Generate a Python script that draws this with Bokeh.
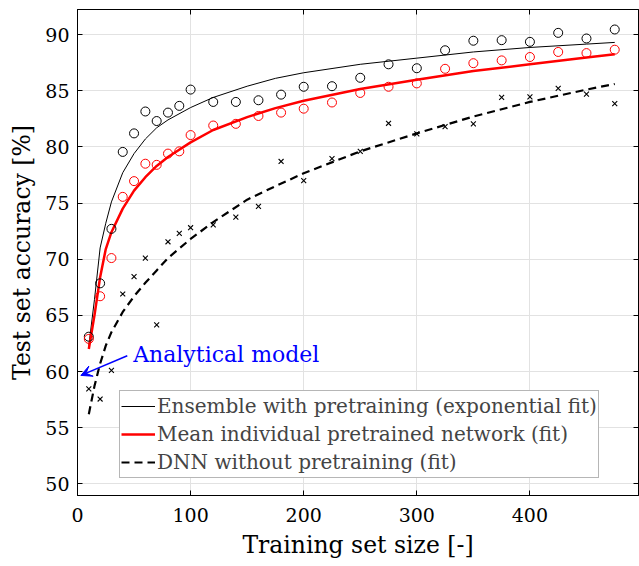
from bokeh.plotting import figure
from bokeh.models import (Range1d, LinearAxis, FixedTicker, Legend, LegendItem,
                          Label, Arrow, VeeHead, CustomJSTickFormatter)
from bokeh.embed import file_html
from bokeh.resources import INLINE

# ---------------- data ----------------
x_pts = [10, 20, 30, 40, 50, 60, 70, 80, 90, 100, 120, 140, 160, 180, 200,
         225, 250, 275, 300, 325, 350, 375, 400, 425, 450, 475]
ensemble_pts = [63.1, 67.85, 72.7, 79.55, 81.2, 83.15, 82.3, 83.05, 83.65, 85.1,
                84.0, 84.0, 84.15, 84.65, 85.35, 85.4, 86.15, 87.35, 87.0, 88.6,
                89.45, 89.5, 89.35, 90.15, 89.65, 90.45]
mean_pts = [62.9, 66.7, 70.1, 75.55, 76.95, 78.5, 78.4, 79.4, 79.6, 81.05,
            81.9, 82.05, 82.75, 83.05, 83.4, 83.95, 84.8, 85.35, 85.65, 86.95,
            87.45, 87.7, 88.0, 88.45, 88.35, 88.65]
dnn_pts = [58.45, 57.55, 60.1, 66.9, 68.45, 70.1, 64.15, 71.55, 72.3, 72.8,
           73.05, 73.75, 74.7, 78.7, 77.0, 78.95, 79.6, 82.1, 81.15, 81.8,
           82.05, 84.4, 84.45, 85.2, 84.7, 83.85]

fit_x = [10, 15, 20, 25, 30, 40, 50, 60, 70, 80, 100, 120, 150, 175, 200,
         250, 300, 350, 400, 450, 475]
ensemble_fit = [62.3, 66.4, 71.0, 73.2, 75.1, 77.7, 79.4, 80.7, 81.7, 82.4,
                83.5, 84.4, 85.4, 86.1, 86.6, 87.35, 87.9, 88.45, 88.85, 89.15, 89.3]
mean_fit = [62.0, 65.0, 68.4, 70.9, 72.4, 74.5, 76.1, 77.3, 78.3, 79.1,
            80.4, 81.5, 82.65, 83.45, 84.1, 85.15, 85.98, 86.75, 87.35, 87.95, 88.25]
dnn_fit = [56.2, 58.7, 60.7, 62.3, 63.5, 65.3, 66.7, 67.9, 69.0, 70.1,
           71.8, 73.3, 75.3, 76.5, 77.65, 79.6, 81.2, 82.7, 84.0, 85.1, 85.6]

x_ticks = [0, 100, 200, 300, 400]
y_ticks = [50, 55, 60, 65, 70, 75, 80, 85, 90]

legend_labels = ["Ensemble with pretraining (exponential fit)",
                 "Mean individual pretrained network (fit)",
                 "DNN without pretraining (fit)"]

FONT = "DejaVu Serif"

# ---------------- figure ----------------
p = figure(width=639, height=566, x_range=Range1d(0, 496),
           y_range=Range1d(48.96, 92.23), output_backend="svg",
           toolbar_location=None, min_border_left=77, min_border_right=1,
           min_border_top=9, min_border_bottom=71)
p.outline_line_color = "black"
p.outline_line_width = 1
p.background_fill_color = "white"
p.border_fill_color = "white"

for ax in (p.xaxis[0], p.yaxis[0]):
    ax.major_tick_in = 5
    ax.major_tick_out = 0
    ax.minor_tick_in = 0
    ax.minor_tick_out = 0
    ax.axis_line_color = "black"
    ax.major_tick_line_color = "black"
    ax.major_label_text_font = FONT
    ax.major_label_text_font_size = "19px"
    ax.major_label_text_color = "black"
    ax.axis_label_text_font = FONT
    ax.axis_label_text_font_size = "23.5px"
    ax.axis_label_text_font_style = "normal"
    ax.axis_label_text_color = "black"

p.xaxis.ticker = FixedTicker(ticks=x_ticks)
p.yaxis.ticker = FixedTicker(ticks=y_ticks)
p.xaxis.axis_label = "Training set size [-]"
p.yaxis.axis_label = "Test set accuracy [%]"
p.xaxis.major_label_standoff = 12
p.xaxis.axis_label_standoff = 6
p.yaxis.major_label_standoff = 8
p.yaxis.axis_label_standoff = 6

p.xgrid.ticker = FixedTicker(ticks=x_ticks)
p.ygrid.ticker = FixedTicker(ticks=y_ticks)
p.grid.grid_line_color = "#e2e2e2"
p.grid.grid_line_width = 1

blank = CustomJSTickFormatter(code="return ''")
right_ax = LinearAxis(ticker=FixedTicker(ticks=y_ticks), formatter=blank,
                      major_tick_in=5, major_tick_out=0, minor_tick_in=0,
                      minor_tick_out=0, major_label_standoff=0,
                      axis_line_color="black")
top_ax = LinearAxis(ticker=FixedTicker(ticks=x_ticks), formatter=blank,
                    major_tick_in=5, major_tick_out=0, minor_tick_in=0,
                    minor_tick_out=0, major_label_standoff=0,
                    axis_line_color="black")
p.add_layout(right_ax, "right")
p.add_layout(top_ax, "above")

# ---------------- glyphs ----------------
r_ens = p.line(fit_x, ensemble_fit, line_color="black", line_width=1)
r_mean = p.line(fit_x, mean_fit, line_color="#ff0000", line_width=2.5)
r_dnn = p.line(fit_x, dnn_fit, line_color="black", line_width=2.2,
               line_dash="8 5")

p.scatter(x_pts, ensemble_pts, marker="circle", size=9, fill_color=None,
          line_color="black", line_width=1)
p.scatter(x_pts, mean_pts, marker="circle", size=9, fill_color=None,
          line_color="#ff0000", line_width=1)
p.scatter(x_pts, dnn_pts, marker="x", size=7, line_color="black",
          line_width=1.1)

# ---------------- annotation ----------------
p.add_layout(Arrow(end=VeeHead(size=11, fill_color="#0000ff",
                               line_color="#0000ff", line_width=1),
                   x_start=44, y_start=61.4, x_end=3.0, y_end=59.65,
                   line_color="#0000ff", line_width=1.5))
p.add_layout(Label(x=49.2, y=61.5, text="Analytical model",
                   text_font=FONT, text_font_size="22px",
                   text_color="#0000ff", text_baseline="alphabetic"))

# ---------------- legend ----------------
legend = Legend(items=[LegendItem(label=legend_labels[0], renderers=[r_ens]),
                       LegendItem(label=legend_labels[1], renderers=[r_mean]),
                       LegendItem(label=legend_labels[2], renderers=[r_dnn])],
                location=(42, 17), label_text_font=FONT,
                label_text_font_size="20px", glyph_width=34, glyph_height=28,
                label_height=28, label_standoff=2, padding=1, spacing=0,
                margin=0, border_line_color="#6e6e6e", border_line_width=1,
                background_fill_color="white", background_fill_alpha=1)
p.add_layout(legend)

open("out.html", "w").write(file_html(p, INLINE))
